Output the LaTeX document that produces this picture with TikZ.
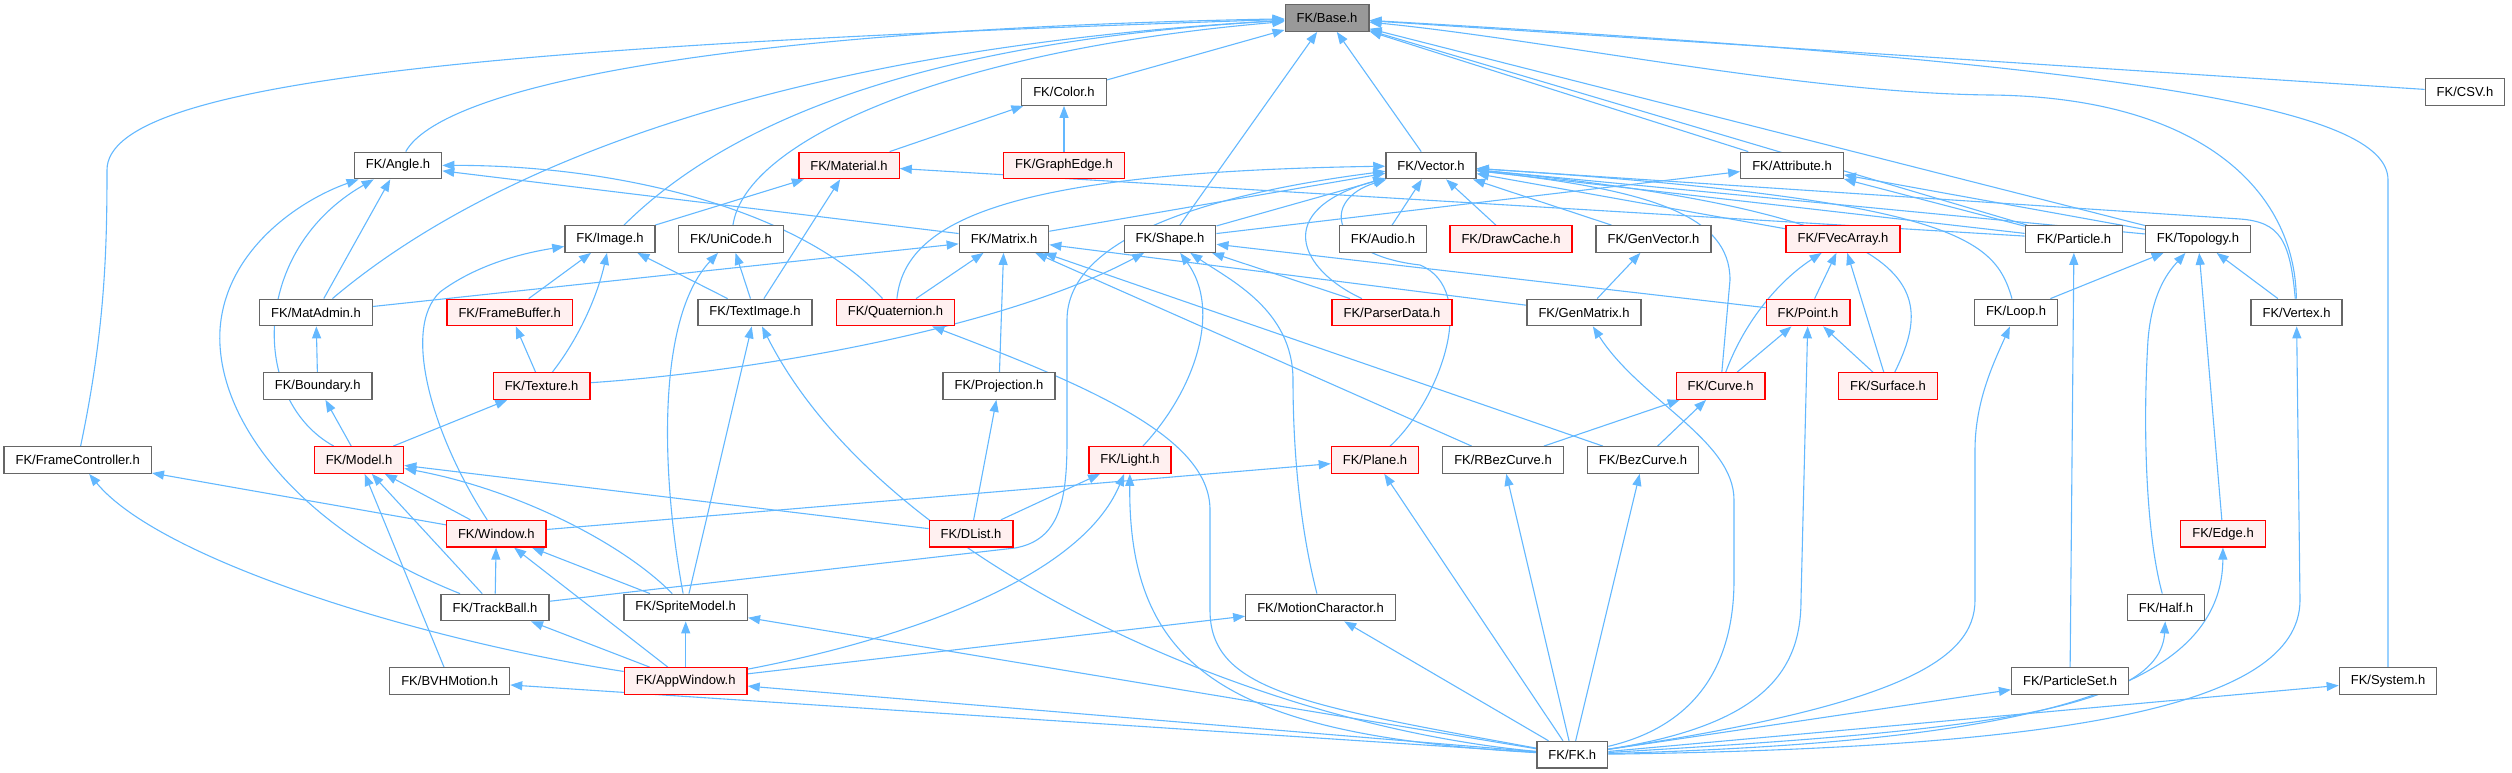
\documentclass[tikz,border=0pt]{standalone}
\usepackage{fontspec}
\setmainfont{Liberation Sans}
\usetikzlibrary{arrows.meta,backgrounds}
\definecolor{edgeblue}{HTML}{63B8FF}
\definecolor{nodegray}{HTML}{666666}
\definecolor{basefill}{HTML}{999999}
\definecolor{redfill}{HTML}{FFF0F0}
\definecolor{redline}{HTML}{FF0000}
\tikzset{
  nd/.style={draw=nodegray, fill=white, line width=1.3pt, rectangle,
    minimum height=26.5pt, inner xsep=11.5pt, inner ysep=0pt,
    font=\fontsize{13pt}{15pt}\selectfont, text=black},
  rednode/.style={nd, draw=redline, fill=redfill},
  basenode/.style={nd, fill=basefill},
  e/.style={draw=edgeblue, line width=1.1pt, -{Triangle[length=12pt,width=9pt]}}
}
\begin{document}
\begin{tikzpicture}[x=1pt,y=-1pt]
\useasboundingbox (0,0) rectangle (2512,773);
% row 0-1
\node[basenode] (Base) at (1327,18) {FK/Base.h};
\node[nd] (Color) at (1064,92) {FK/Color.h};
\node[nd] (CSV) at (2465,92) {FK/CSV.h};
% row 2
\node[nd] (Angle) at (398,165.5) {FK/Angle.h};
\node[rednode] (Material) at (849,165.5) {FK/Material.h};
\node[rednode] (GraphEdge) at (1064,165.5) {FK/GraphEdge.h};
\node[nd] (Vector) at (1431,165.5) {FK/Vector.h};
\node[nd] (Attribute) at (1792,165.5) {FK/Attribute.h};
% row 3
\node[nd] (Image) at (610,239) {FK/Image.h};
\node[nd] (UniCode) at (731,239) {FK/UniCode.h};
\node[nd] (Matrix) at (1004,239) {FK/Matrix.h};
\node[nd] (Shape) at (1170,239) {FK/Shape.h};
\node[nd] (Audio) at (1383,239) {FK/Audio.h};
\node[rednode] (DrawCache) at (1511,239) {FK/DrawCache.h};
\node[nd] (GenVector) at (1653.5,239) {FK/GenVector.h};
\node[rednode] (FVecArray) at (1843,239) {FK/FVecArray.h};
\node[nd] (Particle) at (2074,239) {FK/Particle.h};
\node[nd] (Topology) at (2198,239) {FK/Topology.h};
% row 4
\node[nd] (MatAdmin) at (316,312.5) {FK/MatAdmin.h};
\node[rednode] (FrameBuffer) at (509.7,312.5) {FK/FrameBuffer.h};
\node[nd] (TextImage) at (755,312.5) {FK/TextImage.h};
\node[rednode] (Quaternion) at (895.5,312.5) {FK/Quaternion.h};
\node[rednode] (ParserData) at (1392,312.5) {FK/ParserData.h};
\node[nd] (GenMatrix) at (1584,312.5) {FK/GenMatrix.h};
\node[rednode] (Point) at (1808,312.5) {FK/Point.h};
\node[nd] (Loop) at (2016,312.5) {FK/Loop.h};
\node[nd] (Vertex) at (2296.5,312.5) {FK/Vertex.h};
% row 5
\node[nd] (Boundary) at (317.7,386) {FK/Boundary.h};
\node[rednode] (Texture) at (541.6,386) {FK/Texture.h};
\node[nd] (Projection) at (999,386) {FK/Projection.h};
\node[rednode] (Curve) at (1720.6,386) {FK/Curve.h};
\node[rednode] (Surface) at (1888,386) {FK/Surface.h};
% row 6
\node[nd] (FC) at (77.7,460) {FK/FrameController.h};
\node[rednode] (Model) at (359,460) {FK/Model.h};
\node[rednode] (Light) at (1130,460) {FK/Light.h};
\node[rednode] (Plane) at (1375,460) {FK/Plane.h};
\node[nd] (RBezCurve) at (1503,460) {FK/RBezCurve.h};
\node[nd] (BezCurve) at (1643,460) {FK/BezCurve.h};
% row 7
\node[rednode] (Window) at (496.3,533.7) {FK/Window.h};
\node[rednode] (DList) at (971,533.7) {FK/DList.h};
\node[rednode] (Edge) at (2223,533.7) {FK/Edge.h};
% row 8
\node[nd] (TrackBall) at (495,607.5) {FK/TrackBall.h};
\node[nd] (SpriteModel) at (685.7,607.5) {FK/SpriteModel.h};
\node[nd] (MotionCharactor) at (1320.5,607.5) {FK/MotionCharactor.h};
\node[nd] (Half) at (2166,607.5) {FK/Half.h};
% row 9
\node[nd] (BVHMotion) at (449.7,681) {FK/BVHMotion.h};
\node[rednode] (AppWindow) at (685.7,681) {FK/AppWindow.h};
\node[nd] (ParticleSet) at (2070,681) {FK/ParticleSet.h};
\node[nd] (System) at (2388,681) {FK/System.h};
% row 10
\node[nd] (FK) at (1572.3,754.7) {FK/FK.h};

\begin{scope}[on background layer]
% Base
\draw[e] (FC) .. controls (105,330) and (107,250) .. (107,170) .. controls (107,80) and (500,45) .. (Base);
\draw[e] (Angle) .. controls (440,90) and (700,30) .. (Base);
\draw[e] (MatAdmin) .. controls (520,140) and (850,45) .. (Base);
\draw[e] (Image) .. controls (740,110) and (950,40) .. (Base);
\draw[e] (UniCode) .. controls (745,140) and (950,50) .. (Base);
\draw[e] (Color) -- (Base);
\draw[e] (Shape) -- (Base);
\draw[e] (Vector) -- (Base);
\draw[e] (Attribute) -- (Base);
\draw[e] (Particle) -- (Base);
\draw[e] (Topology) -- (Base);
\draw[e] (CSV) -- (Base);
\draw[e] (Vertex) .. controls (2295,190) and (2200,97) .. (1990,95) .. controls (1800,93) and (1550,40) .. (Base);
\draw[e] (System) -- (2388,180) .. controls (2388,110) and (2150,65) .. (Base);
% Color
\draw[e] (Material) -- (Color);
\draw[e] (GraphEdge) -- (Color);
% Material
\draw[e] (Image) -- (Material);
\draw[e] (TextImage) -- (Material);
\draw[e] (Particle) -- (Material);
% Angle
\draw[e] (Matrix) -- (Angle);
\draw[e] (Quaternion) .. controls (800,210) and (620,165) .. (Angle);
\draw[e] (MatAdmin) -- (Angle);
\draw[e] (Model) .. controls (250,400) and (250,250) .. (Angle);
\draw[e] (TrackBall) .. controls (300,530) and (215,420) .. (220,330) .. controls (225,250) and (300,200) .. (Angle);
% Vector
\draw[e] (Matrix) -- (Vector);
\draw[e] (Quaternion) .. controls (905,220) and (1010,172) .. (Vector);
\draw[e] (Shape) -- (Vector);
\draw[e] (TrackBall) -- (1015,548) .. controls (1060,540) and (1067,500) .. (1067,440) -- (1067,320) .. controls (1067,240) and (1200,195) .. (Vector);
\draw[e] (ParserData) .. controls (1300,270) and (1270,210) .. (Vector);
\draw[e] (Plane) .. controls (1440,400) and (1480,290) .. (1420,265) .. controls (1330,255) and (1320,200) .. (Vector);
\draw[e] (Audio) -- (Vector);
\draw[e] (DrawCache) -- (Vector);
\draw[e] (GenVector) -- (Vector);
\draw[e] (FVecArray) -- (Vector);
\draw[e] (Curve) -- (1730,280) .. controls (1730,215) and (1650,190) .. (Vector);
\draw[e] (Surface) .. controls (1935,290) and (1935,215) .. (Vector);
\draw[e] (Loop) .. controls (1995,240) and (1960,200) .. (Vector);
\draw[e] (Particle) -- (Vector);
\draw[e] (Topology) -- (Vector);
\draw[e] (Vertex) .. controls (2290,240) and (2280,222) .. (2240,219) -- (Vector);
% Attribute
\draw[e] (Shape) -- (Attribute);
\draw[e] (Particle) -- (Attribute);
\draw[e] (Topology) -- (Attribute);
% Matrix
\draw[e] (MatAdmin) -- (Matrix);
\draw[e] (Quaternion) -- (Matrix);
\draw[e] (Projection) -- (Matrix);
\draw[e] (RBezCurve) -- (Matrix);
\draw[e] (BezCurve) -- (Matrix);
\draw[e] (GenMatrix) -- (Matrix);
% Shape
\draw[e] (Texture) .. controls (750,372) and (1000,330) .. (Shape);
\draw[e] (Light) .. controls (1195,390) and (1222,310) .. (Shape);
\draw[e] (MotionCharactor) .. controls (1298,520) and (1293,440) .. (1293,380) .. controls (1293,310) and (1230,280) .. (Shape);
\draw[e] (ParserData) -- (Shape);
\draw[e] (Point) -- (Shape);
% GenVector
\draw[e] (GenMatrix) -- (GenVector);
% FVecArray, Point, Curve
\draw[e] (Point) -- (FVecArray);
\draw[e] (Curve) .. controls (1745,320) and (1780,280) .. (FVecArray);
\draw[e] (Surface) -- (FVecArray);
\draw[e] (Curve) -- (Point);
\draw[e] (Surface) -- (Point);
\draw[e] (RBezCurve) -- (Curve);
\draw[e] (BezCurve) -- (Curve);
% Topology, Particle
\draw[e] (Loop) -- (Topology);
\draw[e] (Half) .. controls (2145,530) and (2143,420) .. (2148,340) .. controls (2152,290) and (2170,270) .. (Topology);
\draw[e] (Edge) -- (Topology);
\draw[e] (Vertex) -- (Topology);
\draw[e] (ParticleSet) -- (Particle);
% Image
\draw[e] (FrameBuffer) -- (Image);
\draw[e] (Texture) .. controls (585,330) and (600,285) .. (Image);
\draw[e] (TextImage) -- (Image);
\draw[e] (Window) .. controls (435,440) and (400,330) .. (440,292) .. controls (480,262) and (530,252) .. (Image);
% UniCode, TextImage
\draw[e] (TextImage) -- (UniCode);
\draw[e] (SpriteModel) .. controls (662,480) and (655,320) .. (UniCode);
\draw[e] (SpriteModel) -- (TextImage);
\draw[e] (FK) .. controls (1250,725) and (880,560) .. (TextImage);
% FrameBuffer, MatAdmin, Boundary, Texture, Projection
\draw[e] (Texture) -- (FrameBuffer);
\draw[e] (Boundary) -- (MatAdmin);
\draw[e] (Model) -- (Boundary);
\draw[e] (Model) -- (Texture);
\draw[e] (DList) -- (Projection);
% FrameController
\draw[e] (Window) -- (FC);
\draw[e] (AppWindow) .. controls (420,640) and (160,560) .. (FC);
% Model
\draw[e] (Window) -- (Model);
\draw[e] (TrackBall) -- (Model);
\draw[e] (BVHMotion) -- (Model);
\draw[e] (SpriteModel) .. controls (625,545) and (520,490) .. (Model);
\draw[e] (DList) -- (Model);
% Light, Plane
\draw[e] (DList) -- (Light);
\draw[e] (AppWindow) .. controls (900,640) and (1080,580) .. (Light);
\draw[e] (FK) .. controls (1230,735) and (1128,670) .. (Light);
\draw[e] (Window) -- (Plane);
\draw[e] (FK) -- (Plane);
\draw[e] (FK) -- (RBezCurve);
\draw[e] (FK) -- (BezCurve);
% Window
\draw[e] (TrackBall) -- (Window);
\draw[e] (SpriteModel) -- (Window);
\draw[e] (AppWindow) -- (Window);
% AppWindow row
\draw[e] (AppWindow) -- (TrackBall);
\draw[e] (AppWindow) -- (SpriteModel);
\draw[e] (FK) -- (SpriteModel);
\draw[e] (AppWindow) -- (MotionCharactor);
\draw[e] (FK) -- (MotionCharactor);
\draw[e] (FK) -- (BVHMotion);
\draw[e] (FK) -- (AppWindow);
% FK to the right
\draw[e] (FK) .. controls (1300,705) and (1210,690) .. (1210,610) -- (1210,510) .. controls (1210,440) and (1100,390) .. (Quaternion);
\draw[e] (FK) .. controls (1700,725) and (1734,660) .. (1734,580) -- (1734,500) .. controls (1734,440) and (1640,400) .. (GenMatrix);
\draw[e] (FK) .. controls (1765,725) and (1801,670) .. (1801,600) -- (Point);
\draw[e] (FK) .. controls (1900,705) and (1975,660) .. (1975,600) -- (1975,450) .. controls (1975,400) and (1995,360) .. (Loop);
\draw[e] (FK) -- (ParticleSet);
\draw[e] (FK) .. controls (1950,732) and (2160,715) .. (Half);
\draw[e] (FK) .. controls (2000,742) and (2222,700) .. (Edge);
\draw[e] (FK) .. controls (2050,748) and (2300,710) .. (2300,600) -- (Vertex);
\draw[e] (FK) -- (System);
\end{scope}
\end{tikzpicture}
\end{document}
